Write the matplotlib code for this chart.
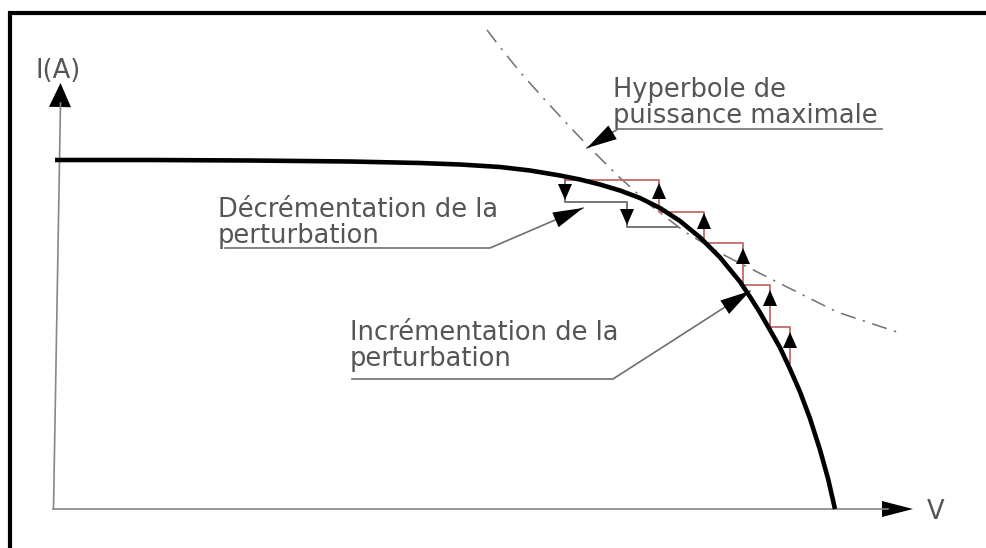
import matplotlib
matplotlib.use("Agg")
import matplotlib.pyplot as plt

# I-V characteristic of the panel (V, I in drawing units, origin at the axes corner)
curve_v = [0, 95, 195, 295, 365, 405, 445, 475, 505, 525, 545, 565, 585, 605,
           625, 645, 665, 685, 695, 705, 715, 725, 735, 745, 755, 765, 773, 780]
curve_i = [349, 349, 348.5, 347.5, 346, 344.5, 342, 338.5, 333.5, 329.5, 324.5, 318.5,
           311, 301, 288, 271.6, 251.6, 227.2, 212.2, 196.4, 179, 161.4, 140, 117.2,
           90.5, 59.2, 30.5, 0]

# Maximum-power hyperbola
hyp_v = [432, 445, 465, 490, 515, 535, 562, 595, 630, 665, 722, 782, 845]
hyp_i = [479, 462, 437, 409, 382, 361, 334, 304, 277, 256, 227, 197, 176]

# Perturbation steps: increments (red) and decrements (grey)
inc_v = [510, 604, 604, 649, 649, 688, 688, 715, 715, 735, 735]
inc_i = [329, 329, 297, 297, 266, 266, 224, 224, 182, 182, 146]
dec_v = [510, 510, 572, 572, 622]
dec_i = [329, 307, 307, 282, 282]

# Arrow tips on the step risers
up_tip_v = [604, 649, 688, 715, 735]
up_tip_i = [326, 296, 261, 219, 177]
down_tip_v = [510, 572]
down_tip_i = [309, 284]

# Axes extents
v_axis_end = 858
i_axis_end = 426

# Callouts: text lines, text anchor, underline span, pointer tip
labels = [
    (["Hyperbole de", "puissance maximale"], (558, 412, 386), (563, 827, 380), (532, 361)),
    (["Décrémentation de la", "perturbation"], (163, 292, 266), (170, 435, 261), (528, 301)),
    (["Incrémentation de la", "perturbation"], (295, 169, 143), (297, 558, 130), (695, 218)),
]

plt.rcParams['font.family'] = ['DejaVu Sans']

fig = plt.figure(figsize=(9.87, 5.48), dpi=100)
ax = fig.add_axes([0, 0, 1, 1])
ax.set_xlim(-55, 932)
ax.set_ylim(-39, 509)
ax.axis('off')

text_color = '#555555'
line_grey = '#6e6e6e'

# outer frame
ax.plot([-45, -45, 940], [-60, 496, 496], color='black', lw=3.0,
        solid_joinstyle='miter', clip_on=False)

# axes with arrowheads
ax.plot([-1.5, 5.5], [0, i_axis_end - 20], color='#888888', lw=1.2)
ax.arrow(5.0, i_axis_end - 24, 0.5, 24, width=0, head_width=22, head_length=24,
         length_includes_head=True, fc='black', ec='none', lw=0)
ax.plot([-2, v_axis_end - 25], [0, 0], color='#888888', lw=1.2)
ax.arrow(v_axis_end - 31, 0, 31, 0, width=0, head_width=16, head_length=31,
         length_includes_head=True, fc='black', ec='none', lw=0)
ax.text(3, 431, "I(A)", color=text_color, fontsize=18.5, ha='center', va='baseline')
ax.text(872, -10, "V", color=text_color, fontsize=18.5, ha='left', va='baseline')

# hyperbola
ax.plot(hyp_v, hyp_i, color='#707070', lw=1.1, linestyle=(0, (10, 5, 1.5, 5)))

# steps
ax.plot(inc_v, inc_i, color='#c46a6a', lw=1.3)
ax.plot(dec_v, dec_i, color='#6a6a6a', lw=1.3)
for v, i in zip(up_tip_v, up_tip_i):
    ax.arrow(v, i - 16, 0, 16, width=0, head_width=14, head_length=16,
             length_includes_head=True, fc='black', ec='none', lw=0, zorder=4)
for v, i in zip(down_tip_v, down_tip_i):
    ax.arrow(v, i + 16, 0, -16, width=0, head_width=14, head_length=16,
             length_includes_head=True, fc='black', ec='none', lw=0, zorder=4)

# I-V curve
ax.plot(curve_v, curve_i, color='black', lw=3.3, solid_capstyle='butt',
        solid_joinstyle='round', zorder=3)

# callouts
for lines, (tx, y1, y2), (u0, u1, uy), (pv, pi) in labels:
    ax.text(tx, y1, lines[0], color=text_color, fontsize=18.5, va='baseline')
    ax.text(tx, y2, lines[1], color=text_color, fontsize=18.5, va='baseline')
    start = (u0, uy) if pv < u0 else (u1, uy)
    end_other = (u1, uy) if pv < u0 else (u0, uy)
    ax.plot([end_other[0], start[0], pv], [uy, uy, pi], color=line_grey, lw=1.2)
    dv, di = pv - start[0], pi - uy
    length = (dv ** 2 + di ** 2) ** 0.5
    hl = min(30, length)
    ax.arrow(pv - dv / length * hl, pi - di / length * hl, dv / length * hl, di / length * hl,
             width=0, head_width=16, head_length=hl, length_includes_head=True,
             fc='black', ec='none', lw=0, zorder=5)

fig.savefig("out.png", dpi=100)
